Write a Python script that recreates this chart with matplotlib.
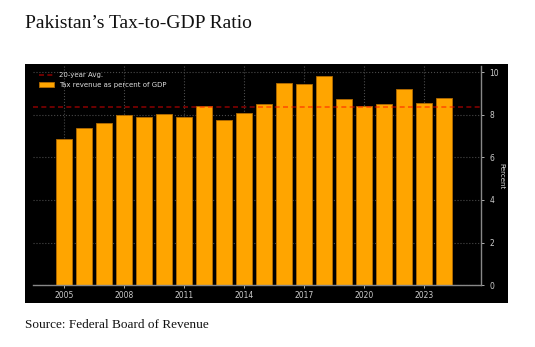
import numpy as np
import matplotlib
matplotlib.use('Agg')
import matplotlib.pyplot as plt
from matplotlib.patches import Rectangle

# data
years = list(range(2005, 2025))
tax_to_gdp = [6.84, 7.36, 7.59, 7.97, 7.89, 8.05, 7.89, 8.42, 7.76, 8.06,
              8.51, 9.50, 9.45, 9.80, 8.73, 8.39, 8.51, 9.20, 8.53, 8.78]
avg_20yr = np.mean(tax_to_gdp)
xticks = [2005, 2008, 2011, 2014, 2017, 2020, 2023]
yticks = [0, 2, 4, 6, 8, 10]

title = "Pakistan\u2019s Tax-to-GDP Ratio"
source = "Source: Federal Board of Revenue"

fig = plt.figure(figsize=(5.35, 3.47), dpi=100)
fig.patch.set_facecolor('white')

# black panel behind the chart
fig.patches.append(Rectangle((0.0467, 0.1277), 0.9028, 0.689, transform=fig.transFigure,
                             facecolor='black', edgecolor='none', zorder=-1))

ax = fig.add_axes([0.0617, 0.1778, 0.8374, 0.6306])
ax.set_facecolor('black')
ax.set_zorder(1)

ax.axhline(avg_20yr, color='red', alpha=0.5, linestyle='--', linewidth=1.2,
           dashes=(3, 2), label='20-year Avg.', zorder=3)
ax.bar(years, tax_to_gdp, width=0.8, color='#ffa500', edgecolor='#b36b00',
       linewidth=0.6, label='Tax revenue as percent of GDP', zorder=2)

ax.set_xlim(2003.43, 2025.83)
ax.set_ylim(0, 10.26)
ax.set_xticks(xticks)
ax.set_yticks(yticks)
ax.yaxis.tick_right()
ax.yaxis.set_label_position('right')
ax.set_ylabel('Percent', rotation=270, color='#dddddd', fontsize=5, labelpad=4)
ax.tick_params(colors='#cccccc', labelsize=5.5, length=2.5, width=0.6)
ax.tick_params(axis='x', colors='#cccccc', length=2, pad=2)

for side in ['top', 'left']:
    ax.spines[side].set_visible(False)
for side in ['bottom', 'right']:
    ax.spines[side].set_color('#888888')
    ax.spines[side].set_linewidth(1.0)

ax.grid(True, color='#4a4a4a', linestyle=':', linewidth=0.8, zorder=0)
ax.set_axisbelow(True)

ax.legend(loc='upper left', frameon=False, fontsize=5, labelcolor='#dddddd',
          handlelength=2.2, borderaxespad=0.4, labelspacing=0.5)

fig.text(25 / 535, 1 - 23 / 347, title, family='Liberation Serif', fontsize=14,
         color='#111111', ha='left', va='center')
fig.text(25 / 535, 1 - 325 / 347, source, family='Liberation Serif', fontsize=9.5,
         color='#111111', ha='left', va='center')

fig.savefig('out.png', dpi=100)
